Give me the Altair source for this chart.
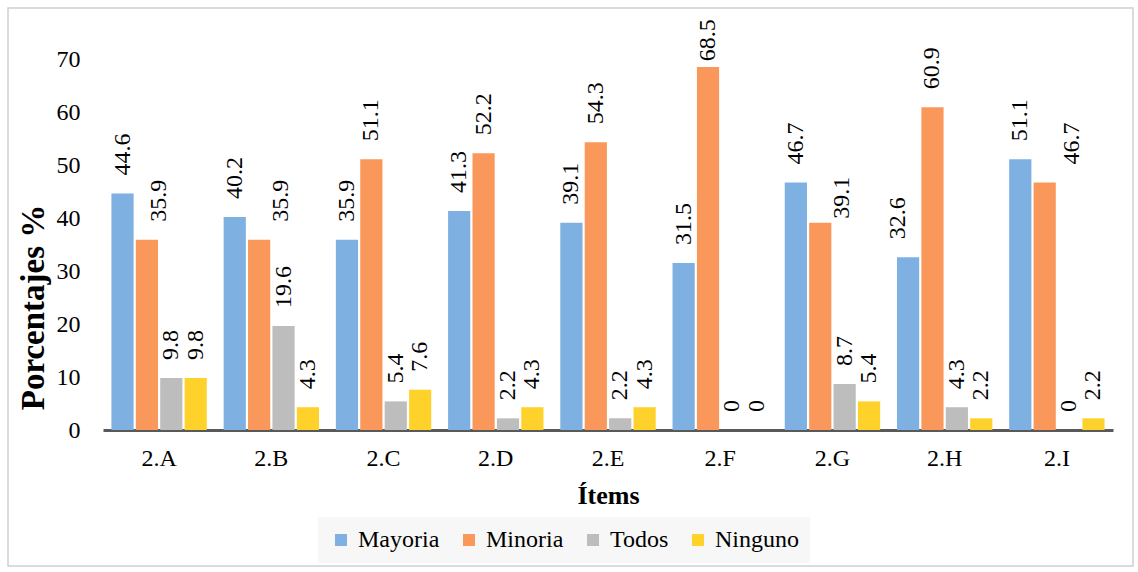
import altair as alt
import pandas as pd

# Ítems y series
items = ["2.A", "2.B", "2.C", "2.D", "2.E", "2.F", "2.G", "2.H", "2.I"]
series = ["Mayoria", "Minoria", "Todos", "Ninguno"]

# Porcentajes por serie
mayoria = [44.6, 40.2, 35.9, 41.3, 39.1, 31.5, 46.7, 32.6, 51.1]
minoria = [35.9, 35.9, 51.1, 52.2, 54.3, 68.5, 39.1, 60.9, 46.7]
todos = [9.8, 19.6, 5.4, 2.2, 2.2, 0, 8.7, 4.3, 0]
ninguno = [9.8, 4.3, 7.6, 4.3, 4.3, 0, 5.4, 2.2, 2.2]

y_ticks = [0, 10, 20, 30, 40, 50, 60, 70]
colors = ["#7EB0E1", "#F9985A", "#BDBDBD", "#FFD22B"]

# Labels moved aside where they would crowd: (sideways in bar widths, vertical in px)
label_nudge = {
    ("2.A", "Minoria"): (0.5, 0),
    ("2.B", "Minoria"): (0.9, 0),
    ("2.G", "Minoria"): (0.9, -14),
    ("2.H", "Mayoria"): (-0.42, 0),
    ("2.I", "Minoria"): (1.1, 0),
}

FONT = "Liberation Serif"
W, H = 1010, 371
Y_MAX = 70
PX_PER_UNIT = H / Y_MAX

rows = []
for k, (s, vals) in enumerate(zip(series, [mayoria, minoria, todos, ninguno])):
    for it, v in zip(items, vals):
        nx, ny = label_nudge.get((it, s), (0, 0))
        rows.append({
            "item": it, "serie": s, "valor": v,
            "slot": k + nx,
            "shift": ny / PX_PER_UNIT,
        })
df = pd.DataFrame(rows)

y_scale = alt.Scale(domain=[0, Y_MAX], nice=False)
y_axis = alt.Axis(
    values=y_ticks, domain=False, ticks=False, grid=False,
    labelFont=FONT, labelFontSize=24, labelColor="#000", labelPadding=23,
    titleFont=FONT, titleFontSize=33, titleFontWeight="bold",
    titleColor="#000", titlePadding=6, titleY=248,
)

x_enc = alt.X(
    "item:N",
    sort=items,
    title="Ítems",
    scale=alt.Scale(paddingInner=0.15, paddingOuter=0.075),
    axis=alt.Axis(
        labelAngle=0, labelFont=FONT, labelFontSize=24, labelColor="#000",
        labelPadding=16, ticks=False, domainColor="#595959", domainWidth=3,
        titleFont=FONT, titleFontSize=26, titleFontWeight="bold",
        titleColor="#000", titlePadding=12,
    ),
)
BAR_GAP = 0.09

bars = alt.Chart(df).mark_bar().encode(
    x=x_enc,
    xOffset=alt.XOffset(
        "serie:N", sort=series,
        scale=alt.Scale(paddingInner=BAR_GAP, paddingOuter=0),
    ),
    y=alt.Y("valor:Q", stack=None, scale=y_scale, title="Porcentajes %", axis=y_axis),
    color=alt.Color(
        "serie:N",
        sort=series,
        scale=alt.Scale(domain=series, range=colors),
        legend=alt.Legend(
            title=None, orient="none", legendX=215, legendY=458,
            direction="horizontal", symbolType="square", symbolSize=144,
            symbolStrokeWidth=0, labelFont=FONT, labelFontSize=24,
            labelColor="#000", labelOffset=5, columnPadding=17,
            fillColor="#F7F7F7", padding=11,
        ),
    ),
)

# Value labels, rotated, above each bar (kept inside the frame at the top).
# Linear offset scale whose slot centres coincide with the bar centres.
half = (1 - BAR_GAP) / 2
labels = alt.Chart(df).transform_calculate(
    pos="min(datum.valor, 66.2) + datum.shift",
    etiqueta="datum.valor == 0 ? '0' : format(datum.valor, '.1f')",
).mark_text(
    angle=270, align="left", baseline="middle", dx=18,
    font=FONT, fontSize=24, color="#000",
).encode(
    x=x_enc,
    xOffset=alt.XOffset(
        "slot:Q",
        scale=alt.Scale(domain=[-half, len(series) - BAR_GAP - half], nice=False, zero=False),
    ),
    y=alt.Y("pos:Q", scale=y_scale, title="Porcentajes %", axis=y_axis),
    text="etiqueta:N",
)

# Light frame around the whole figure
frame = alt.Chart(pd.DataFrame({"k": [0]})).mark_rect(
    fill="transparent", stroke="#D0D0D0", strokeWidth=1.5
).encode(
    x=alt.value(-95), x2=alt.value(1030), y=alt.value(-51), y2=alt.value(507)
)

chart = alt.layer(frame, bars, labels).resolve_scale(
    xOffset="independent"
).properties(
    width=W,
    height=H,
    autosize="none",
    padding={"left": 103, "top": 59, "right": 25, "bottom": 142},
    background="white",
).configure(font=FONT).configure_view(stroke=None)

chart.save("out.html", embed_options={"renderer": "svg", "actions": False})
